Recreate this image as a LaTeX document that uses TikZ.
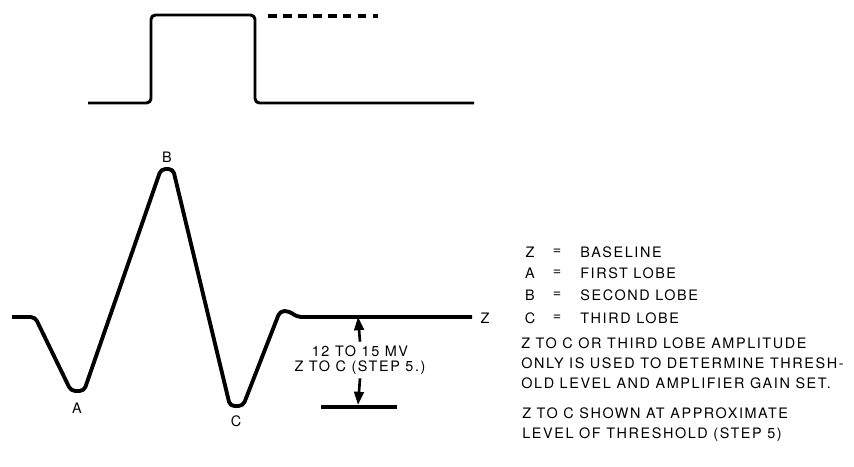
\documentclass[tikz,border=0pt]{standalone}
\usepackage{fontspec}
\setmainfont[LetterSpace=11]{TeX Gyre Heros}
\usetikzlibrary{positioning,arrows.meta}

\tikzset{
    trace/.style={line width=2.2pt,line join=round,rounded corners=2.5pt},
    legendtext/.style={font=\fontsize{8.2}{11.6}\selectfont,inner sep=0pt},
    dimarrow/.style={line width=1.5pt,-{Triangle[length=7.5pt,width=5.5pt]}}
}

\begin{document}
\begin{tikzpicture}[x=0.02cm,y=-0.02cm]
            \useasboundingbox (0,0) rectangle (854,466);
            % gate pulse
            \draw[trace,line width=1.7pt] (88,103) -- (151,103) -- (151,15) -- (255,15) -- (255,103) -- (474,103);
            \draw[line width=1.8pt,dash pattern=on 5pt off 3.5pt] (268,16) -- (378,16);
            % signal with the three lobes
            \draw[trace] (12,317) -- (35,317) -- (71,391) -- (84,391) -- (161,169) -- (173,169)
                -- (230,406) -- (243,406) -- (280,311) -- (289,311) -- (297,317) -- (472,317);
            \node[legendtext] (lblA) at (77,408) {A};
            \node[legendtext] (lblB) at (167,157) {B};
            \node[legendtext] (lblC) at (236,421) {C};
            \node[legendtext] (lblZ) at (485,318) {Z};
            % Z to C amplitude
            \coordinate (zlevel) at (358,317);
            \coordinate (clevel) at (358,405);
            \coordinate (cleft) at (321,407);
            \coordinate (cright) at (397,407);
            \draw[line width=1.8pt] (cleft) -- (cright);
            \node[legendtext,font=\fontsize{8.2}{8.6}\selectfont,align=center] (amp) at (360,360)
                {12 TO 15 MV\\Z TO C (STEP 5.)};
            \draw[dimarrow] ([yshift=2pt]amp.north) -- (zlevel);
            \draw[dimarrow] ([yshift=-2pt]amp.south) -- (clevel);
            % legend
            \foreach \k/\desc/\y in {
                Z/BASELINE/252,
                A/FIRST LOBE/273,
                B/SECOND LOBE/295,
                C/THIRD LOBE/318
            } {
                \node[legendtext] (key\k) at (530,\y) {\k};
                \node[legendtext] (eq\k) at (557,\y) {=};
                \node[legendtext,anchor=west] (desc\k) at (580,\y) {\desc};
            }
            \node[legendtext,anchor=north west,align=left] (note1) at (521,337)
                {Z TO C OR THIRD LOBE AMPLITUDE\\ONLY IS USED TO DETERMINE THRESH-\\OLD LEVEL AND AMPLIFIER GAIN SET.};
            \node[legendtext,anchor=north west,align=left] (note2) at (522,407)
                {Z TO C SHOWN AT APPROXIMATE\\LEVEL OF THRESHOLD (STEP 5)};
        \end{tikzpicture}
\end{document}
